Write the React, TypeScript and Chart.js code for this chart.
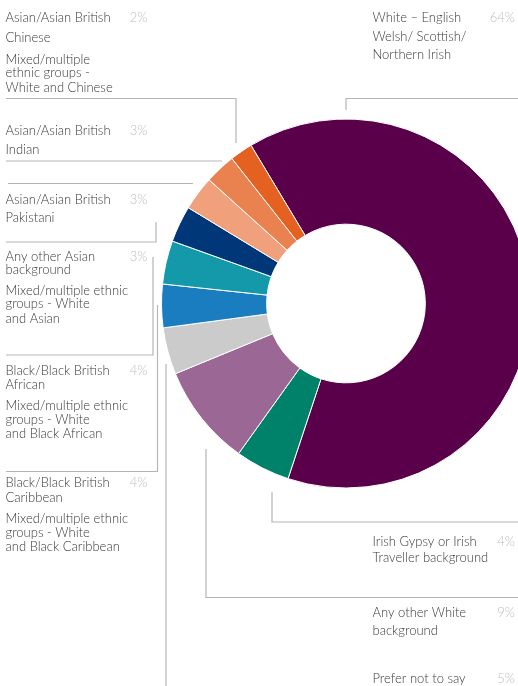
import React, { useEffect, useRef } from "react";
import { Chart, registerables } from "chart.js";

Chart.register(...registerables);

// ---- data ----
const categories: string[][] = [
  ["White – English", "Welsh/ Scottish/", "Northern Irish"],
  ["Irish Gypsy or Irish", "Traveller background"],
  ["Any other White", "background"],
  ["Prefer not to say"],
  ["Black/Black British", "Caribbean", "Mixed/multiple ethnic", "groups - White", "and Black Caribbean"],
  ["Black/Black British", "African", "Mixed/multiple ethnic", "groups - White", "and Black African"],
  ["Any other Asian", "background", "Mixed/multiple ethnic", "groups - White", "and Asian"],
  ["Asian/Asian British", "Pakistani"],
  ["Asian/Asian British", "Indian"],
  ["Asian/Asian British", "Chinese", "Mixed/multiple", "ethnic groups -", "White and Chinese"],
];
const sliceShares: number[] = [63.7, 4.8, 8.9, 4.1, 3.8, 3.8, 3.2, 3.0, 2.7, 2.0];
const percentLabels: string[] = ["64%", "4%", "9%", "5%", "4%", "4%", "3%", "3%", "3%", "2%"];

// ---- styles ----
const sliceColors = [
  "#5a004b",
  "#00826a",
  "#9b6794",
  "#cbcbcb",
  "#1a7dbf",
  "#1499ab",
  "#003778",
  "#f0a07a",
  "#ea8250",
  "#e46122",
];

// ---- layout of labels and leader lines ----
type Layout = { side: "left" | "right"; baselines: number[]; path: number[][] };
const labelLayout: Layout[] = [
  { side: "right", baselines: [21.7, 40.7, 59.3], path: [[346, 110], [346, 98.5], [520, 98.5]] },
  { side: "right", baselines: [545.7, 562.3], path: [[272, 492], [272, 522], [520, 522]] },
  { side: "right", baselines: [616.7, 635], path: [[206, 449], [206, 597.5], [520, 597.5]] },
  { side: "right", baselines: [682.7], path: [[166, 364], [166, 700]] },
  { side: "left", baselines: [486.7, 501.7, 523.3, 537.3, 551], path: [[157.5, 305], [157.5, 471.5], [6, 471.5]] },
  { side: "left", baselines: [375, 389.3, 410, 424, 438.3], path: [[153, 257], [153, 355], [6, 355]] },
  { side: "left", baselines: [260.7, 273.5, 295, 308.3, 322.7], path: [[156, 222], [156, 242], [6, 242]] },
  { side: "left", baselines: [204, 221.7], path: [[8, 183.5], [193, 183.5]] },
  { side: "left", baselines: [135, 154], path: [[6, 161], [222, 161]] },
  { side: "left", baselines: [21.7, 41.7, 63.5, 77.3, 91.7], path: [[6, 98.5], [236, 98.5], [236, 143]] },
];

const FONT = "300 13px Lato, 'Open Sans', sans-serif";
const TEXT_COLOR = "#3a3a3a";
const PCT_COLOR = "#bdbdbd";
const LINE_COLOR = "#b5b5b5";

const labelsPlugin = {
  id: "sideLabels",
  afterDraw(chart: any) {
    const ctx: CanvasRenderingContext2D = chart.ctx;
    ctx.save();
    // leader lines
    ctx.strokeStyle = LINE_COLOR;
    ctx.lineWidth = 1.2;
    labelLayout.forEach((l) => {
      ctx.beginPath();
      l.path.forEach(([x, y], i) => (i === 0 ? ctx.moveTo(x, y) : ctx.lineTo(x, y)));
      ctx.stroke();
    });
    // texts
    ctx.font = FONT;
    ctx.textBaseline = "alphabetic";
    labelLayout.forEach((l, i) => {
      const x = l.side === "left" ? 5.5 : 372.5;
      const pctX = l.side === "left" ? 147.5 : 515;
      ctx.fillStyle = TEXT_COLOR;
      ctx.textAlign = "left";
      categories[i].forEach((t, j) => ctx.fillText(t, x, l.baselines[j]));
      ctx.fillStyle = PCT_COLOR;
      ctx.textAlign = "right";
      ctx.fillText(percentLabels[i], pctX, l.baselines[0]);
    });
    ctx.restore();
  },
};

export default function App() {
  const ref = useRef<HTMLCanvasElement | null>(null);
  useEffect(() => {
    if (!ref.current) return;
    const chart = new Chart(ref.current, {
      type: "doughnut",
      data: {
        labels: categories.map((c) => c.join(" ")),
        datasets: [
          {
            data: sliceShares,
            backgroundColor: sliceColors,
            borderColor: "#ffffff",
            borderWidth: 1,
          },
        ],
      },
      options: {
        responsive: false,
        animation: false,
        cutout: "43%",
        rotation: -31,
        layout: { padding: { left: 161, right: 69, top: 118.5, bottom: 197.5 } },
        plugins: { legend: { display: false }, tooltip: { enabled: false } },
      },
      plugins: [labelsPlugin],
    });
    return () => chart.destroy();
  }, []);
  return (
    <div style={{ position: "fixed", left: 0, top: 0, width: 518, height: 686, overflow: "hidden", background: "#fff" }}>
      <canvas ref={ref} width={600} height={686} style={{ position: "absolute", left: 0, top: 0, width: 600, height: 686 }} />
    </div>
  );
}
